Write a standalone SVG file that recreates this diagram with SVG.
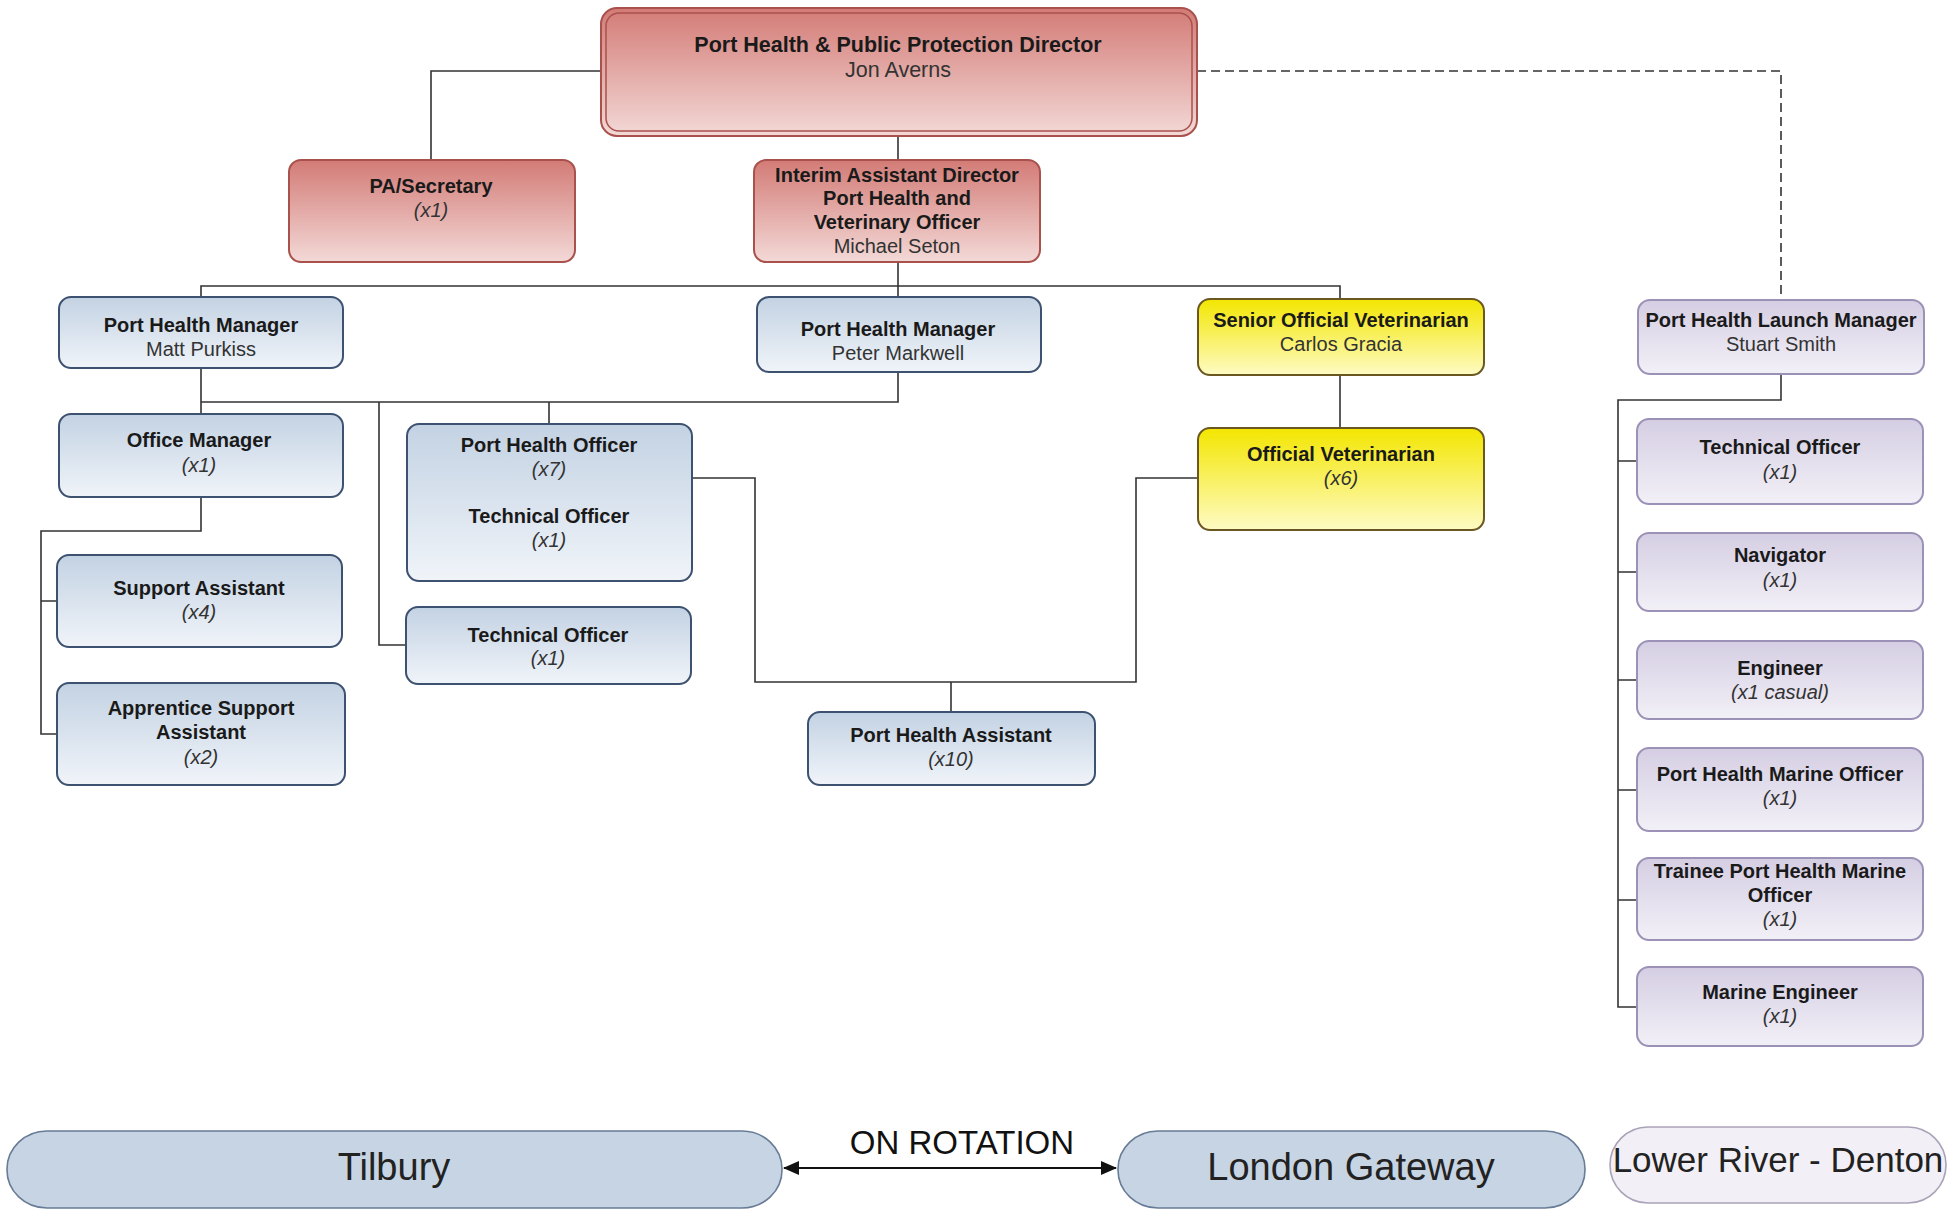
<svg xmlns="http://www.w3.org/2000/svg" width="1955" height="1216" viewBox="0 0 1955 1216">
<defs>
<linearGradient id="gRed" x1="0" y1="0" x2="0" y2="1"><stop offset="0" stop-color="#d37b76"/><stop offset="1" stop-color="#f3d9d7"/></linearGradient>
<linearGradient id="gBlue" x1="0" y1="0" x2="0" y2="1"><stop offset="0" stop-color="#c3d2e3"/><stop offset="1" stop-color="#f0f4f9"/></linearGradient>
<linearGradient id="gYel" x1="0" y1="0" x2="0" y2="1"><stop offset="0" stop-color="#f3e600"/><stop offset="1" stop-color="#fefbc4"/></linearGradient>
<linearGradient id="gPur" x1="0" y1="0" x2="0" y2="1"><stop offset="0" stop-color="#d5cee3"/><stop offset="1" stop-color="#f2f0f7"/></linearGradient>
<marker id="arr" viewBox="0 0 10 10" refX="9" refY="5" markerWidth="7" markerHeight="7" markerUnits="userSpaceOnUse" orient="auto-start-reverse">
<path d="M0,0 L10,5 L0,10 z" fill="#111"/></marker>
<marker id="ah" viewBox="0 0 16 14" refX="15" refY="7" markerWidth="16" markerHeight="14" markerUnits="userSpaceOnUse" orient="auto-start-reverse">
<path d="M0,0 L16,7 L0,14 z" fill="#111"/></marker>
</defs>
<style>
text{font-family:"Liberation Sans",Arial,sans-serif;text-anchor:middle;fill:#1a1a1a;}
.t{font-size:20px;font-weight:bold;}
.n{font-size:20px;fill:#333;}
.c{font-size:20px;font-style:italic;fill:#333;}
.red{fill:url(#gRed);stroke:#a9514c;stroke-width:2;}
.blue{fill:url(#gBlue);stroke:#3d5170;stroke-width:2;}
.yel{fill:url(#gYel);stroke:#6b5820;stroke-width:2;}
.pur{fill:url(#gPur);stroke:#9c91b6;stroke-width:2;}
.ln{fill:none;stroke:#333;stroke-width:1.6;}
.dash{fill:none;stroke:#333;stroke-width:1.6;stroke-dasharray:9 5;}
.pill{fill:#c7d4e3;stroke:#687b97;stroke-width:1.6;}
.pill2{fill:#f2f0f6;stroke:#aaa3b8;stroke-width:1.6;}
.big{font-size:38px;fill:#222;}
</style>
<rect width="1955" height="1216" fill="#fff"/>

<g id="connectors">
<path class="ln" d="M600,71 H431 V160"/>
<path class="ln" d="M898,137 V160"/>
<path class="ln" d="M898,262 V286 M201,297 V286 H1340 V299 M898,286 V297"/>
<path class="dash" d="M1197,71 H1781 V300"/>
<path class="ln" d="M201,368 V414 M201,402 H898 V372 M379,402 V645 H406 M549,402 V424"/>
<path class="ln" d="M201,497 V531 H41 V734 H57 M41,601 H57"/>
<path class="ln" d="M692,478 H755 V682 H1136 V478 H1198 M951,682 V712"/>
<path class="ln" d="M1340,375 V428"/>
<path class="ln" d="M1781,374 V400 H1618 V1007 H1637 M1618,461 H1637 M1618,572 H1637 M1618,680 H1637 M1618,790 H1637 M1618,900 H1637"/>
<path d="M784,1168 H1116" fill="none" stroke="#111" stroke-width="2" marker-start="url(#ah)" marker-end="url(#ah)"/>
</g>

<g id="director">
<rect class="red" x="601" y="8" width="596" height="128" rx="16" stroke="#9e4540"/>
<rect x="606" y="13" width="586" height="118" rx="13" fill="none" stroke="#a9514c" stroke-width="1.5"/>
<text class="t" x="898" y="52" style="font-size:21.5px">Port Health &amp; Public Protection Director</text>
<text class="n" x="898" y="77" style="font-size:21.5px">Jon Averns</text>
</g>
<g id="pa">
<rect class="red" x="289" y="160" width="286" height="102" rx="12"/>
<text class="t" x="431" y="193">PA/Secretary</text>
<text class="c" x="431" y="217">(x1)</text>
</g>
<g id="interim">
<rect class="red" x="754" y="160" width="286" height="102" rx="12"/>
<text class="t" x="897" y="182">Interim Assistant Director</text>
<text class="t" x="897" y="205">Port Health and</text>
<text class="t" x="897" y="229">Veterinary Officer</text>
<text class="n" x="897" y="253">Michael Seton</text>
</g>
<g id="phm1">
<rect class="blue" x="59" y="297" width="284" height="71" rx="12"/>
<text class="t" x="201" y="332">Port Health Manager</text>
<text class="n" x="201" y="356">Matt Purkiss</text>
</g>
<g id="phm2">
<rect class="blue" x="757" y="297" width="284" height="75" rx="12"/>
<text class="t" x="898" y="336">Port Health Manager</text>
<text class="n" x="898" y="360">Peter Markwell</text>
</g>
<g id="sov">
<rect class="yel" x="1198" y="299" width="286" height="76" rx="12"/>
<text class="t" x="1341" y="327">Senior Official Veterinarian</text>
<text class="n" x="1341" y="351">Carlos Gracia</text>
</g>
<g id="launch">
<rect class="pur" x="1638" y="300" width="286" height="74" rx="12"/>
<text class="t" x="1781" y="327">Port Health Launch Manager</text>
<text class="n" x="1781" y="351">Stuart Smith</text>
</g>
<g id="office">
<rect class="blue" x="59" y="414" width="284" height="83" rx="12"/>
<text class="t" x="199" y="447">Office Manager</text>
<text class="c" x="199" y="472">(x1)</text>
</g>
<g id="pho">
<rect class="blue" x="407" y="424" width="285" height="157" rx="12"/>
<text class="t" x="549" y="452">Port Health Officer</text>
<text class="c" x="549" y="476">(x7)</text>
<text class="t" x="549" y="523">Technical Officer</text>
<text class="c" x="549" y="547">(x1)</text>
</g>
<g id="tech1">
<rect class="blue" x="406" y="607" width="285" height="77" rx="12"/>
<text class="t" x="548" y="642">Technical Officer</text>
<text class="c" x="548" y="665">(x1)</text>
</g>
<g id="support">
<rect class="blue" x="57" y="555" width="285" height="92" rx="12"/>
<text class="t" x="199" y="595">Support Assistant</text>
<text class="c" x="199" y="619">(x4)</text>
</g>
<g id="apprentice">
<rect class="blue" x="57" y="683" width="288" height="102" rx="12"/>
<text class="t" x="201" y="715">Apprentice Support</text>
<text class="t" x="201" y="739">Assistant</text>
<text class="c" x="201" y="764">(x2)</text>
</g>
<g id="pha">
<rect class="blue" x="808" y="712" width="287" height="73" rx="12"/>
<text class="t" x="951" y="742">Port Health Assistant</text>
<text class="c" x="951" y="766">(x10)</text>
</g>
<g id="ov">
<rect class="yel" x="1198" y="428" width="286" height="102" rx="12"/>
<text class="t" x="1341" y="461">Official Veterinarian</text>
<text class="c" x="1341" y="485">(x6)</text>
</g>
<g id="r-tech">
<rect class="pur" x="1637" y="419" width="286" height="85" rx="12"/>
<text class="t" x="1780" y="454">Technical Officer</text>
<text class="c" x="1780" y="479">(x1)</text>
</g>
<g id="r-nav">
<rect class="pur" x="1637" y="533" width="286" height="78" rx="12"/>
<text class="t" x="1780" y="562">Navigator</text>
<text class="c" x="1780" y="587">(x1)</text>
</g>
<g id="r-eng">
<rect class="pur" x="1637" y="641" width="286" height="78" rx="12"/>
<text class="t" x="1780" y="675">Engineer</text>
<text class="c" x="1780" y="699">(x1 casual)</text>
</g>
<g id="r-phmo">
<rect class="pur" x="1637" y="748" width="286" height="83" rx="12"/>
<text class="t" x="1780" y="781">Port Health Marine Officer</text>
<text class="c" x="1780" y="805">(x1)</text>
</g>
<g id="r-trainee">
<rect class="pur" x="1637" y="858" width="286" height="82" rx="12"/>
<text class="t" x="1780" y="878">Trainee Port Health Marine</text>
<text class="t" x="1780" y="902">Officer</text>
<text class="c" x="1780" y="926">(x1)</text>
</g>
<g id="r-marine">
<rect class="pur" x="1637" y="967" width="286" height="79" rx="12"/>
<text class="t" x="1780" y="999">Marine Engineer</text>
<text class="c" x="1780" y="1023">(x1)</text>
</g>

<g id="tilbury">
<rect class="pill" x="7" y="1131" width="775" height="77" rx="40" ry="38"/>
<text class="big" x="394" y="1180">Tilbury</text>
</g>
<g id="london">
<rect class="pill" x="1118" y="1131" width="467" height="77" rx="40" ry="38"/>
<text class="big" x="1351" y="1180">London Gateway</text>
</g>
<g id="denton">
<rect class="pill2" x="1610" y="1127" width="336" height="76" rx="38" ry="38"/>
<text x="1778" y="1172" style="font-size:35px;fill:#222">Lower River - Denton</text>
</g>
<text x="962" y="1154" style="font-size:33px;fill:#111">ON ROTATION</text>
</svg>
